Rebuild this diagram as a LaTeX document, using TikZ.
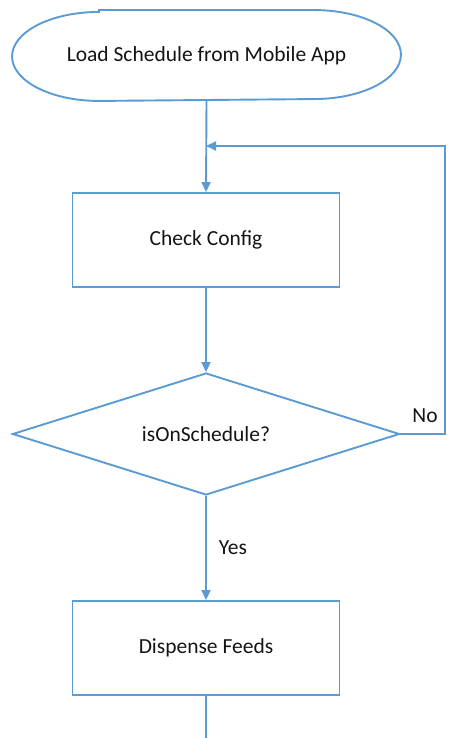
\documentclass[tikz,border=0pt]{standalone}
\usepackage{fontspec}
\setmainfont{Carlito}
\usetikzlibrary{shapes.geometric,arrows.meta,calc}
\definecolor{fcblue}{RGB}{91,155,213}
\definecolor{fctext}{RGB}{20,20,20}
\tikzset{
  base/.style={text=fctext,font=\fontsize{21.5}{25}\selectfont,line width=1.9pt},
  procbox/.style={base,draw=fcblue,rectangle,minimum width=267pt,minimum height=94pt,inner sep=0pt},
  decbox/.style={base,draw=fcblue,diamond,aspect=3.17,minimum width=387pt,minimum height=122pt,inner sep=0pt},
  termbox/.style={base,draw=none,rectangle,minimum width=387pt,minimum height=89pt,inner sep=0pt},
  conn/.style={draw=fcblue,line width=1.9pt},
  arr/.style={conn,-{Triangle[width=9pt,length=10pt]}},
  lbl/.style={text=fctext,font=\fontsize{21.5}{25}\selectfont,inner sep=0pt}
}
\begin{document}
\begin{tikzpicture}[x=1pt,y=-1pt]
\useasboundingbox (0,0) rectangle (462,738);
\node[termbox] (start) at (206.5,55.5) {Load Schedule from Mobile App};
\draw[conn] ($(start.north west)+(87,0)$) -- ($(start.north east)+(-87,0)$)
  arc[start angle=90,end angle=-90,x radius=87pt,y radius=44.5pt]
  -- ($(start.south west)+(87,0)$)
  arc[start angle=270,end angle=90,x radius=87pt,y radius=44.5pt] -- cycle;
\node[procbox] (check) at (206,240) {Check Config};
\node[decbox] (dec) at (206,434) {isOnSchedule?};
\node[procbox] (feed) at (206,648) {Dispense Feeds};
\coordinate (loopin) at (206,146);
\coordinate (endpt) at (206,738);
\draw[arr] (start.south) -- (check.north);
\draw[arr] (check.south) -- (dec.north);
\draw[arr] (dec.east) -- (445,434) -- (445,146) -- (loopin);
\draw[arr] (dec.south) -- node[lbl,right=12pt,pos=0.5] (yes) {Yes} (feed.north);
\draw[conn] (feed.south) -- (endpt);
\node[lbl] (no) at (425,416) {No};
\end{tikzpicture}
\end{document}
